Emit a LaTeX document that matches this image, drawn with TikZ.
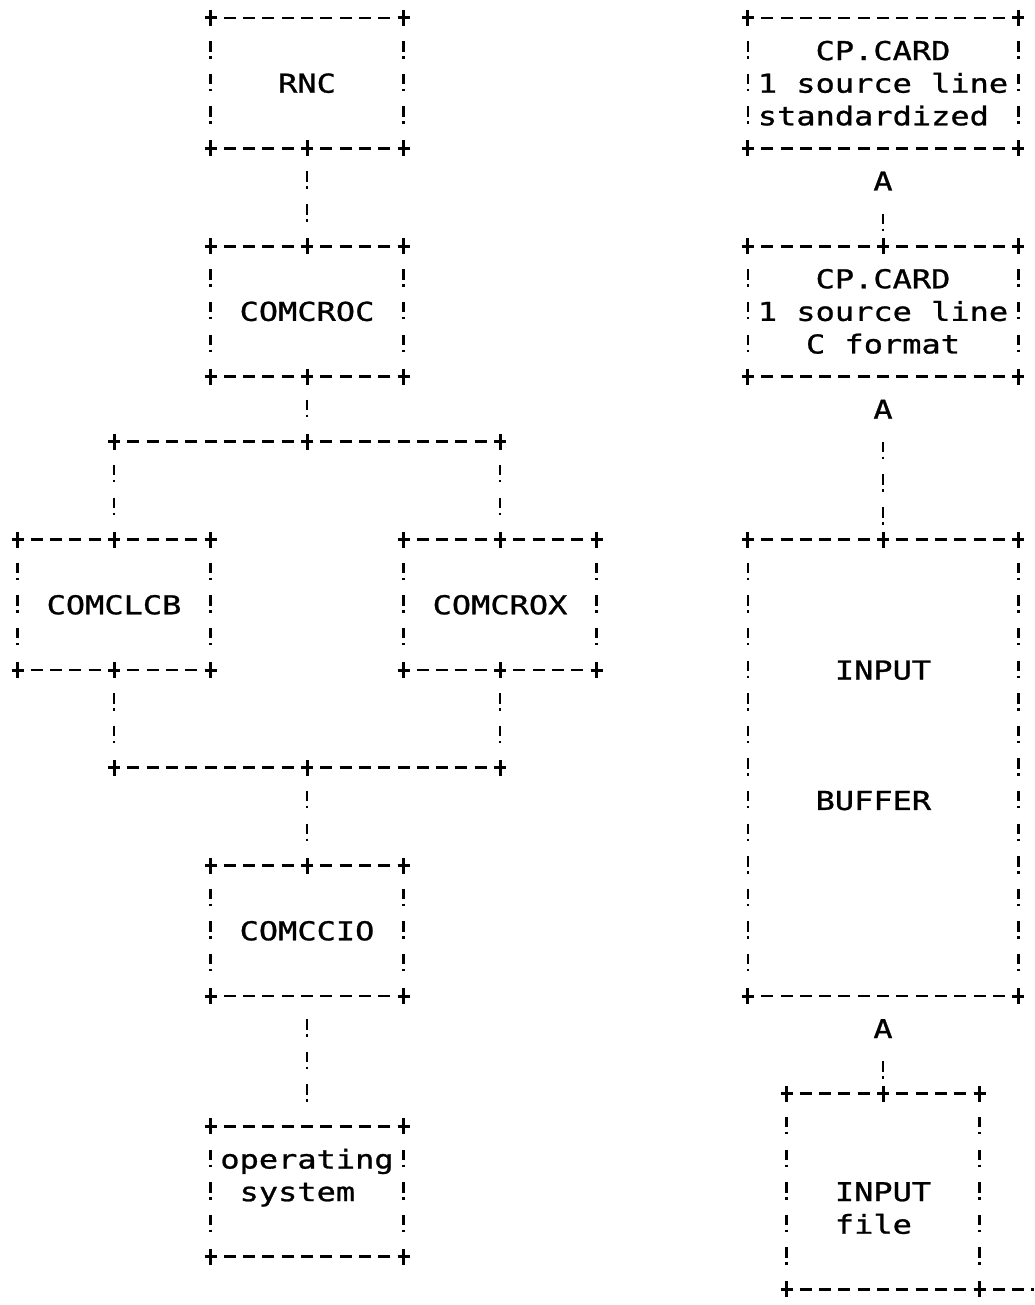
\documentclass[tikz,border=0pt]{standalone}
\usepackage{fontspec}
\newfontfamily\ttype{DejaVu Sans Mono}[FakeStretch=1.23, FakeBold=1]
\usetikzlibrary{calc,positioning}
\tikzset{
	hdash/.style={line width=1.4pt, dash pattern=on 6pt off 3.65pt, dash phase=3pt},
	vdash/.style={line width=1.4pt, dash pattern=on 5.25pt off 2.25pt on 1.25pt off 7.55pt,
		dash phase=9.75pt, shorten <=5pt, shorten >=5pt},
	progbox/.style={align=center, minimum width=96.5pt, minimum height=65.2pt},
	widebox/.style={progbox, minimum width=135.1pt},
	lbl/.style={align=center, text height=9.5pt, text depth=0pt},
	junction/.pic={\draw[line width=1.5pt] (-6,0) -- (6,0) (0,-8) -- (0,8);},
}

\begin{document}
\begin{tikzpicture}[x=0.5pt, y=-0.5pt,
	every node/.style={font={\ttype\fontsize{13pt}{16.3pt}\selectfont}, inner sep=0pt, outer sep=0pt}]
	\useasboundingbox (0,0) rectangle (1034,1305);

	% left column
	\node[progbox] (rnc) at (307,83.2) {RNC};
	\node[progbox] (croc) at (307,311.4) {COMCROC};
	\node[progbox] (clcb) at (114,604.8) {COMCLCB};
	\node[progbox] (crox) at (500,604.8) {COMCROX};
	\node[progbox] (ccio) at (307,930.8) {COMCCIO};
	\node[progbox] (opsys) at (307,1191.6) {};
	\node[lbl] (optxt1) at (307,1159) {operating};
	\node[lbl] (optxt2) at (307,1191.6) {system\hphantom{x}};

	\coordinate (forkl) at (114,441.8);
	\coordinate (fork) at (307,441.8);
	\coordinate (forkr) at (500,441.8);
	\coordinate (joinl) at (114,767.8);
	\coordinate (join) at (307,767.8);
	\coordinate (joinr) at (500,767.8);

	% right column
	\node[widebox] (card1) at (883,83.2) {CP.CARD\\1 source line\\standardized\hphantom{x}};
	\node[widebox] (card2) at (883,311.4) {CP.CARD\\1 source line\\C format};
	\node[widebox, minimum height=228.2pt] (buf) at (883,767.8) {};
	\node[lbl] (buftxt1) at (883,670) {INPUT};
	\node[lbl] (buftxt2) at (883,800.4) {BUFFER\hphantom{x}};
	\node[progbox, minimum height=97.8pt] (infile) at (883,1191.6) {};
	\node[lbl] (filetxt1) at (883,1191.6) {INPUT};
	\node[lbl] (filetxt2) at (883,1224.2) {file\hphantom{x}};
	\node[lbl] (up1) at (883,181) {A};
	\node[lbl] (up2) at (883,409.2) {A};
	\node[lbl] (up3) at (883,1028.6) {A};
	\coordinate (edge) at (1034,1289.4);

	% box outlines
	\foreach \nd in {rnc,croc,clcb,crox,ccio,opsys,card1,card2,buf,infile}{
		\draw[hdash] (\nd.north west) -- (\nd.north east);
		\draw[hdash] (\nd.south west) -- (\nd.south east);
		\draw[vdash] (\nd.north west) -- (\nd.south west);
		\draw[vdash] (\nd.north east) -- (\nd.south east);
	}

	% connectors
	\draw[vdash] (rnc.south) -- (croc.north);
	\draw[vdash] (croc.south) -- (fork);
	\draw[hdash] (forkl) -- (forkr);
	\draw[vdash] (forkl) -- (clcb.north);
	\draw[vdash] (forkr) -- (crox.north);
	\draw[vdash] (clcb.south) -- (joinl);
	\draw[vdash] (crox.south) -- (joinr);
	\draw[hdash] (joinl) -- (joinr);
	\draw[vdash] (join) -- (ccio.north);
	\draw[vdash] (ccio.south) -- (opsys.north);

	\draw[vdash] (up1) -- (card2.north);
	\draw[vdash] (up2) -- (buf.north);
	\draw[vdash] (up3) -- (infile.north);
	\draw[hdash] (infile.south east) -- (edge);

	% corner and junction marks
	\foreach \nd in {rnc,croc,clcb,crox,ccio,opsys,card1,card2,buf,infile}
		\foreach \k in {north west,north east,south west,south east}
			\pic at (\nd.\k) {junction};
	\foreach \p in {rnc.south,croc.north,croc.south,clcb.north,clcb.south,crox.north,crox.south,
		ccio.north,card2.north,buf.north,infile.north,forkl,fork,forkr,joinl,join,joinr}
		\pic at (\p) {junction};
\end{tikzpicture}
\end{document}
